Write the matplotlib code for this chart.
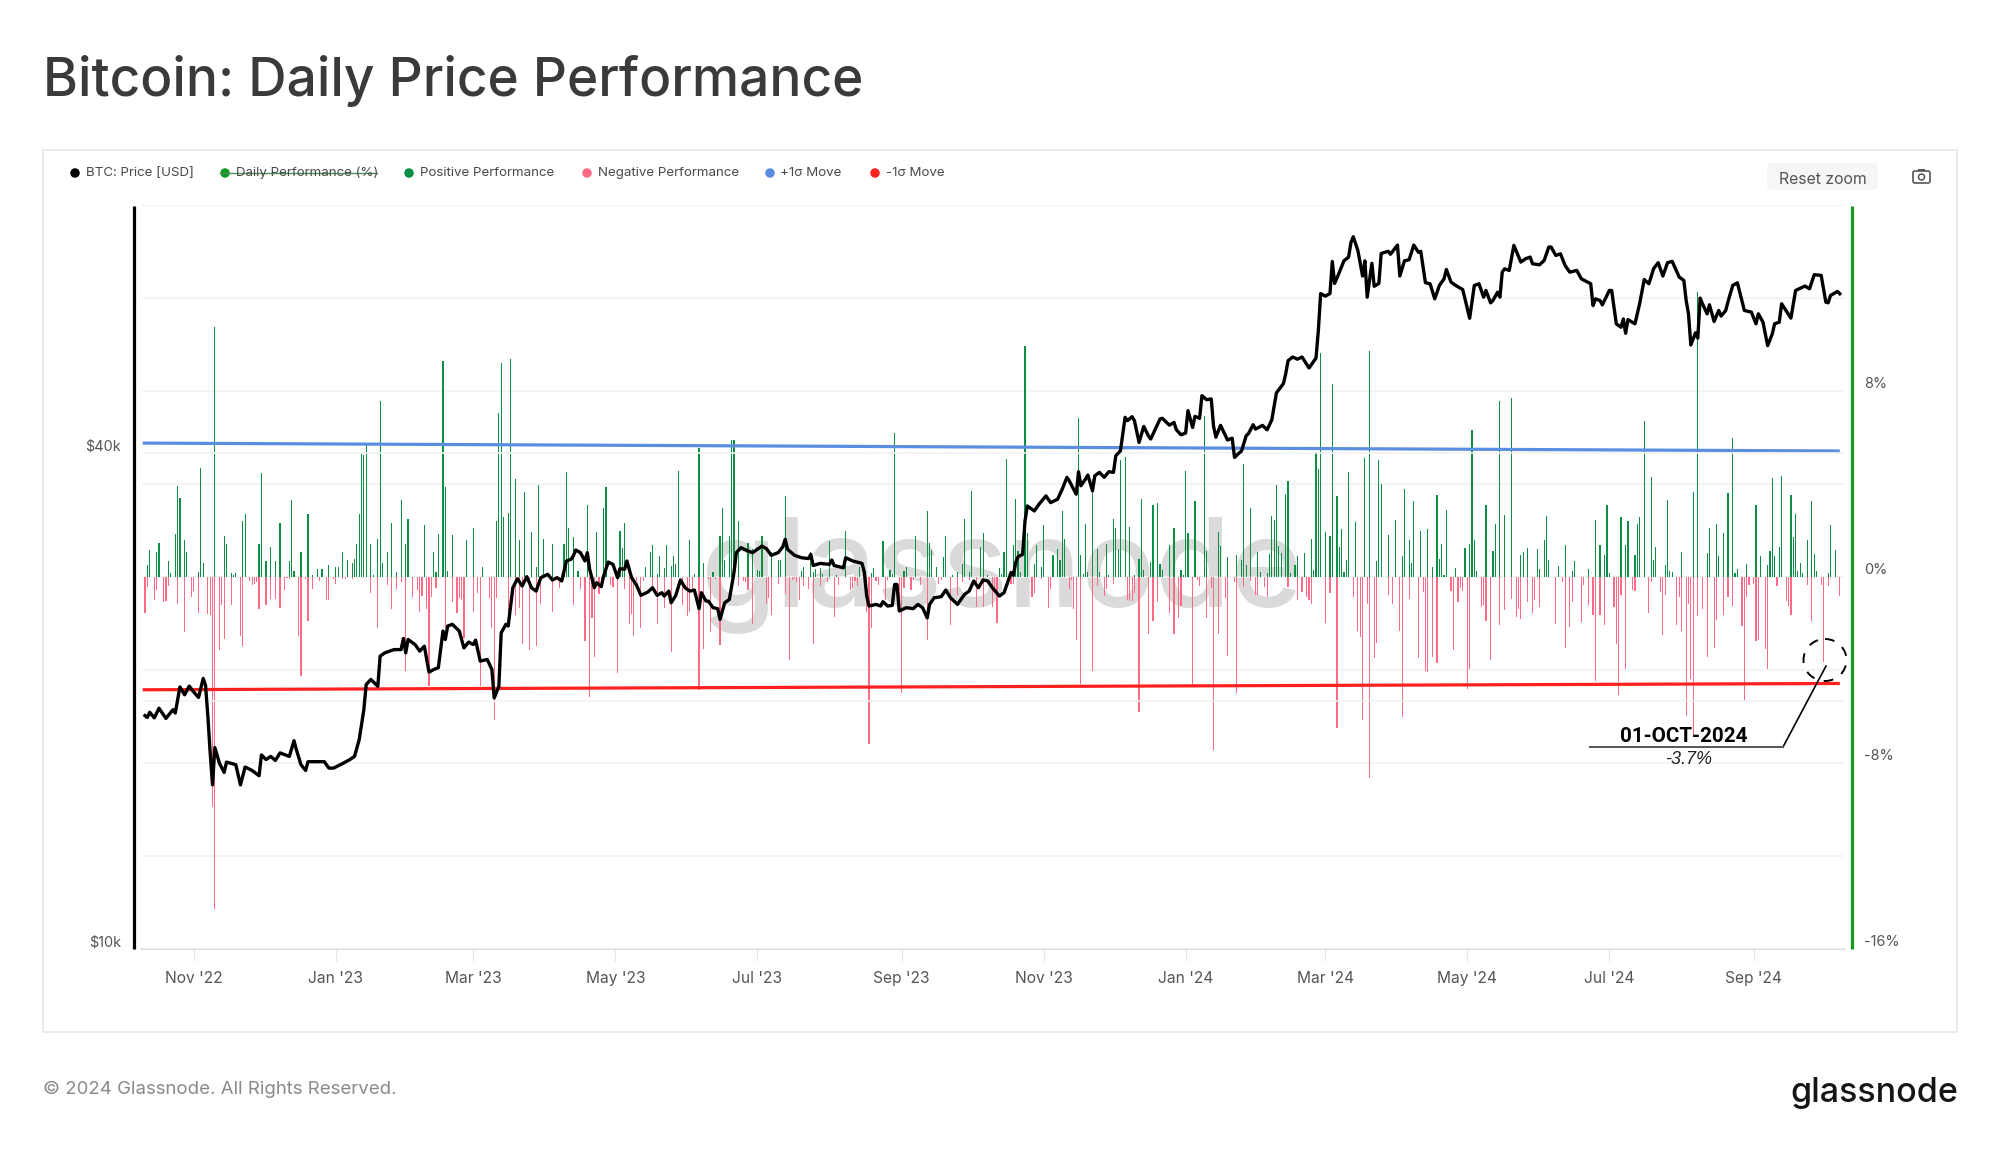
import matplotlib
matplotlib.use('Agg')
import matplotlib.pyplot as plt
import pandas as pd
from matplotlib.patches import Rectangle, FancyBboxPatch, Circle, Ellipse

plt.rcParams['font.family'] = ['Inter', 'DejaVu Sans']

# day numbers count from the first day of the chart
start = pd.Timestamp('2022-10-11')

pos_days = [1, 2, 5, 6, 10, 11, 13, 14, 15, 17, 18, 23, 24, 25, 30, 34, 35, 37, 38, 39, 42, 43, 49, 50, 52, 54, 56, 58, 62, 63, 64, 67, 70, 72, 74, 76, 79, 82, 83, 85, 87, 89,
            90, 91, 92, 93, 94, 95, 97, 98, 100, 101, 102, 104, 106, 108, 110, 112, 113, 120, 124, 125, 126, 128, 129, 130, 132, 138, 141, 145, 151, 152, 153, 154, 156, 157, 159, 161, 163, 166, 168, 169, 171, 175, 180, 181, 182,
            184, 186, 190, 194, 197, 198, 204, 205, 206, 215, 217, 218, 220, 221, 223, 224, 226, 227, 228, 229, 234, 236, 238, 240, 244, 247, 248, 249, 251, 252, 253, 255, 259, 261, 263, 264, 265, 269, 272, 273,
            275, 282, 283, 286, 287, 288, 290, 291, 294, 297, 301, 307, 312, 313, 317, 320, 321, 322, 326, 327, 331, 336, 337, 338, 340, 343, 344, 347, 349, 351, 352, 354, 355, 359, 360, 362, 367,
            368, 369, 370, 372, 373, 374, 375, 376, 378, 379, 382, 383, 385, 386, 390, 392, 393, 394, 395, 401, 402, 403, 404, 405, 407, 409, 410, 413, 414, 416, 417, 418, 419, 421, 423, 425, 427, 428, 429, 432, 433, 435, 436, 437, 440, 442, 445, 446, 447, 448, 451, 455, 456,
            461, 462, 465, 469, 471, 472, 473, 475, 478, 479, 482, 483, 484, 485, 486, 487, 488, 490, 491, 492, 494, 495, 498, 501, 502, 503, 504, 505, 507, 509, 510, 512, 513, 514, 515, 516, 517, 520, 524, 526, 529, 530, 531, 534, 537, 540, 541, 543, 544, 545, 548, 551,
            553, 555, 556, 557, 558, 559, 563, 567, 569, 570, 571, 572, 576, 579, 580, 582, 584, 587, 591, 592, 594, 598, 599, 601, 602, 603, 607, 610, 613, 614, 620, 623, 625, 627, 628, 629, 634, 636, 637, 640, 641, 642, 644,
            647, 648, 649, 653, 654, 655, 656, 660, 665, 667, 671, 672, 675, 676, 678, 680, 682, 683, 684, 688, 692, 694, 697, 698, 699, 700, 702, 703, 707, 708, 709, 710, 711, 712, 714, 716, 717, 718, 723, 724, 726]
pos_vals = [.53, 1.18, 1.06, 1.46, .67, .17, 1.86, 3.9, 3.38, 1.58, 1.06, .2, 4.69, .6, 10.74, 1.75, 1.4, .16, .1, .16, 2.39, 2.72, 1.4, 4.46, .67, 1.29, .67, 2.32, .67, 3.3, .26, 1.06, 2.72, .1, .33, .33, .53, .43, .43, 1.06, .72, .6,
            .77, 1.4, 2.72, 5.32, 5.26, 5.69, 1.4, .1, 1.65, 7.56, .6, 1.06, 2.34, .2, 3.31, 1.4, 2.51, 2.22, 1.06, .2, 1.86, 9.3, 3.89, .26, 1.82, 1.59, 2.1, .43, 2.39, 7.05, 9.19, 2.57, 2.74, 9.36, 4.23, 1.59, 3.66, 1.94, .43, 3.94, 1.65, 1.4, 1.4, 4.52, 2.1,
            1.71, .26, 3.08, 1.94, 2.97, 3.89, 1.99, 1.25, 2.34, .43, 1.06, 1.36, .14, .89, .39, 1.36, .49, .89, .56, 4.57, 1.59, .14, 5.55, .6, .2, 1.76, 2.97, .72, 1.76, 5.91, 5.91, 2.39, 1.48, 1.22, .32, .26, 1.76, 1.06, .72, .72,
            3.47, .26, .43, 1.06, .2, .36, .39, .14, 1.53, .09, 1.99, .43, .17, .37, 1.53, .32, .14, 6.19, .26, .43, 1.76, 2.85, 1.48, 1.18, .43, .85, 1.76, .09, .2, .56, 2.51, .2, 3.71, 1.3, 1.88, .09, .37,
            .14, 1.06, 5.09, .14, 1.36, 3.37, 1.1, .2, 9.92, 1.88, .56, 1.36, .43, 2.22, .96, 1.19, .72, 2.85, 1.65, 6.84, .95, .14, 2.28, .2, 4.23, 1.19, .2, 1.42, .09, 2.51, 2.11, 1.19, 5.03, 5.15, 2.16, .09, .77, 3.37, .32, .66, 3.08, 3.2, .56, .32, 1.36, 2.11, .32, .09, 4.57, 1.88, 3.25, 6.91, 1.13,
            1.92, 1.34, .84, .94, .72, 4.88, .53, 2.97, 1.06, .23, .16, 1.0, 2.63, 2.44, 3.94, 1.33, 1.02, 3.55, 4.11, .19, .5, .89, 1.02, 1.64, .31, 5.38, 4.64, 9.65, 1.92, 1.75, 8.32, 3.49, 1.28, 2.05, .23, .72, 4.53, 2.35, 5.1, 9.71, .67, 5.04, 4.0, 1.8, 2.46, .89, 3.77, 1.59, .59, 3.25, 1.99, 2.05,
            .43, 3.54, .77, 1.42, .07, 2.9, .37, 1.23, 1.4, 6.31, 1.59, .27, 3.08, 1.13, 2.28, 7.56, 2.68, 7.68, .96, 1.06, 1.25, 1.19, .33, 1.59, 2.62, .73, .49, 1.36, .27, .67, .33, 2.45, 1.36, .96, 3.08, .16, 2.57, 1.36, 2.39, .96, 2.28, 2.57, 6.72,
            4.29, .72, 1.3, .5, 3.31, .27, .22, 1.08, 3.66, 12.24, 1.02, 2.11, 2.28, .9, 1.89, 3.6, 6.0, .16, .33, .56, 3.08, .9, .5, 1.13, 4.24, .9, 1.3, 4.36, 3.54, 1.71, 2.7, .27, .62, .16, 1.59, 3.25, .97, .27, .16, 2.22, 1.18]

neg_days = [0, 1, 4, 5, 8, 9, 10, 14, 17, 20, 21, 23, 27, 28, 29, 30, 32, 33, 34, 37, 41, 42, 45, 46, 47, 48, 49, 52, 54, 56, 58, 60, 61, 62, 66, 67, 69, 70, 72, 75, 78, 79, 81, 82, 85, 86, 89,
            97, 100, 104, 106, 108, 110, 112, 115, 117, 118, 119, 121, 122, 123, 125, 129, 132, 134, 135, 136, 137, 141, 143, 144, 148, 149, 150, 151, 156, 159, 161, 162, 165, 168, 170, 175, 178,
            184, 187, 189, 191, 192, 193, 195, 196, 200, 201, 203, 206, 208, 209, 210, 211, 213, 214, 218, 220, 223, 226, 231, 233, 234, 235, 238, 240, 242, 243, 245, 247, 255, 257, 258, 259, 261, 267, 268, 269, 272, 275,
            277, 278, 279, 280, 281, 283, 285, 287, 290, 293, 296, 298, 303, 304, 305, 306, 310, 311, 312, 314, 315, 318, 319, 324, 325, 326, 329, 330, 333, 336, 341, 342, 346, 349, 351, 354, 357, 360, 364, 365, 366,
            371, 372, 373, 381, 382, 385, 388, 389, 397, 398, 399, 400, 402, 407, 409, 412, 413, 416, 422, 423, 424, 425, 427, 431, 433, 435, 440, 442, 444, 445, 450, 452, 453, 456, 458, 459,
            461, 464, 465, 468, 469, 472, 475, 477, 478, 481, 482, 491, 495, 497, 499, 500, 501, 507, 509, 512, 519, 521, 522, 523, 525, 526, 528, 529, 534, 536, 539, 540, 543, 547, 549, 550, 551,
            553, 555, 561, 562, 564, 565, 566, 568, 569, 574, 575, 576, 578, 582, 584, 587, 589, 590, 591, 594, 596, 597, 599, 606, 609, 610, 612, 613, 617, 618, 620, 622, 623, 625, 627, 631, 632, 633, 634, 636, 639, 640,
            646, 647, 651, 652, 653, 658, 659, 660, 662, 663, 664, 665, 667, 669, 671, 674, 675, 678, 680, 682, 686, 687, 688, 689, 691, 692, 693, 696, 697, 701, 705, 706, 707, 714, 716, 720, 721, 723, 728]
neg_vals = [-1.55, -.44, -.97, -.57, -1.09, -1.05, -.4, -1.15, -2.35, -.86, -.62, -1.55, -1.58, -1.62, -9.9, -14.3, -3.15, -1.22, -2.65, -1.22, -2.52, -2.98, -.19, -.36, -.29, -.23, -1.38, -1.22, -.93, -.93, -1.32, -.57, -.04, -.1, -2.52, -4.24, -.1, -1.9, -.52, -.16, -1.0, -.97, -.1, -.29, -.07, -.1, -.07,
            -.7, -2.18, -.34, -1.39, -.52, -.23, -4.03, -.86, -.57, -1.49, -.8, -1.39, -4.7, -.86, -.46, -2.19, -1.09, -1.55, -.89, -.97, -2.62, -1.49, -.69, -4.7, -.92, -2.18, -6.14, -.92, -1.62, -1.62, -1.32, -2.87, -3.13, -2.98, -1.15, -1.49, -.46,
            -1.2, -.52, -2.77, -5.18, -1.78, -3.46, -.75, -.4, -.36, -.42, -4.14, -.52, -2.0, -1.61, -2.52, -.19, -2.18, -.17, -.4, -2.0, -1.32, -3.23, -1.2, -1.66, -1.49, -.52, -4.87, -3.11, -.07, -2.35, -.09, -2.92, -.4, -.17, -.23, -.57, -2.0, -1.15, -.92, -1.62, -.29, -.75,
            -3.56, -.11, -.07, -.23, -.97, -.4, -.52, -2.87, -.4, -.23, -1.72, -.34, -.57, -.46, -.17, -.4, -1.49, -7.18, -2.18, -.19, -.34, -.97, -.11, -1.48, -5.0, -.46, -.57, -.11, -.34, -2.71, -.29, -.11, -2.06, -.76, -.23, -.11, -1.28, -1.28, -1.28, -.62, -1.96,
            -.34, -.29, -.29, -.86, -.69, -.1, -1.32, -.52, -.52, -.11, -1.39, -2.7, -4.59, -4.03, -.4, -.8, -.52, -.29, -.97, -1.03, -1.05, -.69, -5.81, -2.47, -1.91, -1.09, -1.55, -2.47, -1.76, -1.26, -4.7, -.11, -.4, -1.76, -.46, -7.44,
            -2.47, -.91, -3.39, -.23, -5.0, -.41, -.19, -.78, -.78, -.44, -.86, -.42, -.99, -.64, -.88, -.97, -1.14, -1.97, -.7, -6.5, -.88, -2.31, -2.6, -6.16, -1.14, -8.63, -3.5, -2.86, -.78, -1.16, -2.31, -6.04, -.94, -3.47, -.63, -4.03, -4.07,
            -3.44, -3.71, -.62, -3.15, -1.08, -.47, -.62, -4.83, -3.97, -1.3, -1.22, -1.91, -3.57, -2.08, -1.43, -.93, -1.73, -1.38, -1.79, -1.09, -1.56, -.97, -1.28, -2.02, -.23, -3.05, -2.14, -1.09, -1.95, -.33, -1.19, -1.62, -4.49, -1.62, -2.08, -1.29, -2.88, -5.06, -.76, -3.97, -.54, -.59,
            -1.55, -.23, -.65, -2.48, -.76, -2.08, -.86, -2.31, -5.98, -1.15, -4.37, -6.78, -1.66, -1.38, -3.46, -3.05, -1.84, -1.62, -.86, -1.26, -2.12, -5.35, -.86, -.34, -.3, -2.77, -2.7, -3.1, -3.97, -.4, -1.02, -1.26, -1.62, -.34, -1.91, -.36, -3.67, -.4, -.8]

price_days = [0, 1, 2, 4, 6, 9, 12, 13, 15, 17, 19, 21, 23, 25, 26, 27, 28, 29, 30, 32, 34, 35, 39, 41, 43, 46, 49, 50, 52, 54, 56, 58, 62, 64, 65, 67, 69, 70, 77, 79, 81, 85, 88,
              90, 92, 94, 95, 97, 100, 101, 103, 105, 107, 110, 111, 112, 113, 116, 118, 120, 121, 122, 124, 126, 128, 129, 130, 132, 135, 137, 139, 141, 142, 144, 147, 149, 150, 152, 153, 155, 156, 158, 160, 162, 164, 166, 168, 170, 173, 175, 177, 179, 181, 183,
              184, 185, 187, 189, 190, 191, 193, 194, 196, 197, 199, 201, 203, 204, 206, 207, 209, 211, 213, 216, 218, 220, 222, 223, 225, 226, 228, 230, 232, 234, 236, 238, 239, 241, 242, 244, 246, 247, 249, 251, 253, 254, 256, 259, 261, 265, 267, 269, 272, 274,
              275, 276, 279, 282, 285, 286, 287, 290, 294, 295, 296, 300, 301, 304, 308, 309, 310, 311, 314, 316, 317, 319, 321, 322, 323, 324, 327, 330, 332, 334, 336, 337, 339, 342, 344, 346, 349, 352, 354, 356, 358, 360, 362, 364, 367,
              369, 372, 373, 374, 375, 377, 378, 379, 382, 384, 387, 389, 392, 394, 396, 397, 400, 401, 402, 404, 405, 407, 408, 410, 412, 414, 416, 417, 419, 421, 422, 424, 425, 427, 429, 431, 432, 434, 436, 437, 440, 442, 443, 445, 447, 448, 450, 451, 453, 454, 456, 458, 459,
              460, 462, 465, 467, 468, 470, 471, 473, 474, 476, 477, 480, 482, 484, 486, 489, 490, 491, 493, 495, 497, 500, 503, 504, 505, 507, 509, 510, 511, 513, 515, 517, 518, 519, 521, 523, 524, 525, 527, 528, 530, 531, 534, 535, 538, 539, 541, 543, 545, 547, 548, 550,
              552, 554, 556, 558, 559, 561, 563, 566, 567, 569, 571, 573, 575, 576, 578, 579, 581, 582, 583, 584, 586, 588, 591, 593, 595, 596, 599, 601, 603, 604, 606, 608, 610, 612, 615, 617, 621, 622, 623, 625, 626, 629, 630, 632, 634, 635, 636, 637, 640, 642, 644,
              646, 648, 650, 652, 654, 656, 659, 661, 662, 663, 664, 666, 667, 668, 669, 671, 672, 674, 676, 677, 679, 680, 682, 684, 687, 690, 692, 693, 695, 697, 699, 700, 702, 703, 707, 709, 713, 715, 717, 720, 722, 723, 724, 727, 728]
price_k = [19.2, 19.1, 19.38, 19.08, 19.6, 19.05, 19.52, 19.34, 20.8, 20.35, 20.85, 20.5, 20.2, 21.3, 20.9, 19.17, 17.3, 15.82, 17.56, 16.8, 16.38, 16.86, 16.74, 15.82, 16.63, 16.47, 16.23, 17.2, 16.98, 17.13, 16.94, 17.3, 17.13, 17.9, 17.46, 16.74, 16.47, 16.88, 16.88, 16.58, 16.58, 16.8, 16.98,
           17.13, 17.95, 19.52, 20.94, 21.24, 20.84, 22.67, 22.88, 22.99, 23.09, 23.09, 23.82, 22.88, 23.75, 23.42, 22.99, 23.31, 22.46, 21.68, 21.84, 21.95, 24.32, 23.75, 24.66, 24.78, 24.32, 23.2, 23.58, 23.42, 23.71, 22.36, 22.46, 21.84, 20.17, 20.84, 24.2, 24.78, 24.66, 27.45, 28.15, 27.58, 28.31, 27.45, 27.19, 28.23, 28.5, 28.05, 28.23, 27.97, 29.58, 29.72,
           30.0, 30.5, 30.28, 29.58, 30.28, 28.9, 27.45, 27.84, 27.53, 28.37, 29.49, 29.3, 28.23, 28.95, 28.9, 29.58, 28.23, 27.7, 26.87, 27.12, 27.45, 26.87, 27.07, 26.82, 27.19, 26.32, 26.87, 28.05, 27.45, 27.19, 27.27, 25.89, 27.07, 26.44, 26.44, 25.96, 25.89, 25.12, 26.32, 26.56, 28.64, 30.28, 30.7, 30.41, 30.28, 30.84, 30.61, 30.05, 30.28, 30.78,
           31.43, 30.56, 30.05, 29.85, 29.78, 30.13, 29.21, 29.38, 29.3, 29.66, 29.21, 29.02, 29.85, 29.58, 29.38, 28.64, 26.82, 26.08, 26.2, 26.08, 26.4, 26.08, 26.13, 27.7, 27.7, 25.72, 25.96, 25.89, 26.2, 25.96, 25.23, 26.2, 26.69, 26.77, 27.27, 26.69, 26.2, 26.94, 27.19, 27.97, 27.45, 28.05, 27.97, 27.45, 26.82,
           27.07, 28.64, 28.42, 29.45, 29.94, 30.13, 33.08, 34.5, 34.02, 34.66, 35.48, 34.82, 35.15, 36.16, 37.37, 37.01, 35.65, 37.96, 36.5, 37.19, 37.61, 35.98, 37.54, 37.89, 37.37, 37.96, 37.89, 39.69, 40.25, 44.19, 43.78, 44.27, 43.78, 41.2, 43.08, 41.97, 41.59, 42.77, 43.99, 44.07, 43.24, 43.57, 42.69, 42.09, 42.29, 45.03, 42.96, 44.31, 44.07, 46.95, 46.43, 46.52, 43.08,
           41.81, 43.21, 41.48, 41.69, 39.5, 40.01, 40.22, 41.98, 42.23, 43.29, 42.76, 43.21, 42.68, 43.87, 47.32, 48.56, 49.92, 51.78, 52.31, 51.99, 52.31, 50.73, 52.15, 56.3, 62.46, 62.01, 62.46, 68.32, 64.25, 66.26, 68.45, 69.16, 72.02, 73.21, 70.43, 65.59, 68.45, 61.83, 67.97, 63.74, 64.25, 69.86, 70.29, 69.72, 71.52, 65.59, 68.45, 68.66, 71.52, 70.08, 70.29, 64.39,
           64.19, 61.54, 63.89, 65.08, 66.81, 64.49, 63.89, 63.17, 61.54, 58.29, 63.89, 64.19, 61.83, 63.0, 60.86, 61.26, 62.7, 61.83, 66.31, 66.93, 66.63, 71.46, 68.2, 68.84, 69.16, 67.88, 67.69, 68.51, 71.13, 71.13, 69.48, 69.81, 67.56, 66.31, 66.63, 65.08, 64.19, 60.4, 61.54, 61.26, 60.51, 63.0, 63.0, 57.39, 56.85, 58.18, 55.89, 58.08, 57.39, 60.68, 64.96,
           64.2, 66.95, 68.09, 65.59, 68.09, 68.34, 65.41, 64.8, 61.27, 59.02, 54.1, 55.97, 55.14, 61.67, 60.7, 59.02, 60.53, 57.77, 59.58, 58.64, 59.58, 61.1, 63.89, 64.37, 59.58, 59.3, 57.4, 59.02, 57.66, 54.0, 55.8, 57.4, 57.66, 60.7, 58.32, 63.0, 63.78, 63.3, 65.84, 65.71, 60.98, 60.87, 62.13, 62.83, 62.42]

sigma_days = [-1, 728]
plus_sigma = [5.76, 5.42]
minus_sigma = [-4.85, -4.58]

tick_dates = ['2022-11-01', '2023-01-01', '2023-03-01', '2023-05-01', '2023-07-01', '2023-09-01',
              '2023-11-01', '2024-01-01', '2024-03-01', '2024-05-01', '2024-07-01', '2024-09-01']
tick_labels = ["Nov '22", "Jan '23", "Mar '23", "May '23", "Jul '23", "Sep '23",
               "Nov '23", "Jan '24", "Mar '24", "May '24", "Jul '24", "Sep '24"]

legend_names = ['BTC: Price [USD]', 'Daily Performance (%)', 'Positive Performance', 'Negative Performance', '+1σ Move', '-1σ Move']
legend_colors = ['#000000', '#0f9a1e', '#0a8f44', '#ff6b85', '#5b8de0', '#ff2020']
legend_dot_x = [75, 225, 409, 587, 770, 875]


def to_dates(days):
    return start + pd.to_timedelta(days, unit='D')


W, H = 2000, 1152
fig = plt.figure(figsize=(20, 11.52), dpi=100, facecolor='white')

# page layer in pixels, sits under the chart
page = fig.add_axes([0, 0, 1, 1], zorder=0)
page.set_xlim(0, W)
page.set_ylim(H, 0)
page.axis('off')

# annotation layer on top of the chart
top = fig.add_axes([0, 0, 1, 1], zorder=5)
top.set_xlim(0, W)
top.set_ylim(H, 0)
top.axis('off')

page.add_patch(Rectangle((43, 150), 1914, 882, fc='white', ec='#e8e8e8', lw=1.2))
page.text(43, 81, 'Bitcoin: Daily Price Performance', fontsize=38.3, color='#3a3a3a', va='center', ha='left', fontweight='medium')
page.text(43, 1089, '© 2024 Glassnode. All Rights Reserved.', fontsize=13.4, color='#8a8a8a', va='center')
page.text(1958, 1093, 'glassnode', fontsize=24.5, color='#151515', va='center', ha='right', fontweight='medium')
page.text(1001, 576, 'glassnode', fontsize=88, color='#dadada', va='center', ha='center', fontweight='medium')

for name, col, dx in zip(legend_names, legend_colors, legend_dot_x):
    page.add_patch(Ellipse((dx, 173), 9.5, 9.5, fc=col, ec='none'))
    page.text(dx + 10.5, 173, name, fontsize=9.6, color='#4a4a4a', va='center')
page.plot([220, 377], [173, 173], color='#4f8f5a', lw=1)

page.add_patch(FancyBboxPatch((1770, 166), 105, 21, boxstyle='round,pad=3,rounding_size=5', fc='#f5f6f8', ec='none'))
page.text(1823, 179, 'Reset zoom', fontsize=11.4, color='#555555', va='center', ha='center')
page.add_patch(FancyBboxPatch((1913, 171), 17, 12, boxstyle='round,pad=0,rounding_size=2', fc='none', ec='#555555', lw=1.2))
page.add_patch(Rectangle((1918, 168.5), 7, 2.5, fc='#555555', ec='none'))
page.add_patch(Circle((1921.5, 177), 3, fc='none', ec='#555555', lw=1.1))

page.plot([134, 134], [206, 949], color='black', lw=2.3, solid_capstyle='butt')
page.plot([1852, 1852], [206, 949], color='#159a1a', lw=2.3, solid_capstyle='butt')

# chart axes: performance in %, price on a log axis
ax = fig.add_axes([142 / W, 1 - 949 / H, (1844 - 142) / W, (949 - 205) / H], zorder=1)
ax.patch.set_alpha(0)
ax.bar(to_dates(pos_days), pos_vals, width=0.5, color='#0a8f44', linewidth=0, zorder=2, snap=True)
ax.bar(to_dates(neg_days), neg_vals, width=0.5, color='#ff6b85', linewidth=0, zorder=2, snap=True)
ax.plot(to_dates(sigma_days), plus_sigma, color='#5b8de0', lw=2.3, zorder=3, solid_capstyle='butt')
ax.plot(to_dates(sigma_days), minus_sigma, color='#ff2020', lw=2.3, zorder=3, solid_capstyle='butt')

ax2 = ax.twinx()
ax2.set_zorder(2)
ax2.patch.set_alpha(0)
ax2.plot(to_dates(price_days), [p * 1000 for p in price_k], color='black', lw=2.4, zorder=4, solid_joinstyle='round')
ax2.set_yscale('log')
ax2.set_ylim(10000, 80000)
ax2.yaxis.tick_left()
ax2.set_yticks([10000, 20000, 40000, 80000])
ax2.set_yticklabels(['$10k', '', '$40k', ''], va='bottom')
ax2.minorticks_off()
ax2.tick_params(axis='y', length=0, pad=15, labelsize=10.4, labelcolor='#555555')
ax2.grid(axis='y', color='#f2f2f2', lw=1.2)
ax2.set_axisbelow(True)
for side in ['left', 'right', 'top', 'bottom']:
    ax2.spines[side].set_visible(False)

ax.set_xlim(start + pd.Timedelta(days=-1.29), start + pd.Timedelta(days=729.8))
ax.set_ylim(-16, 16)
# twinx puts the first axis ticks back on the left, so set the side here
ax.yaxis.tick_right()
ax.set_yticks([-16, -12, -8, -4, 0, 4, 8, 12, 16])
ax.set_yticklabels(['-16%', '', '-8%', '', '0%', '', '8%', '', ''], va='bottom')
ax.tick_params(axis='y', length=0, pad=14.5, labelsize=10.4, labelcolor='#555555')
ax.set_xticks(pd.to_datetime(tick_dates))
ax.set_xticklabels(tick_labels)
ax.tick_params(axis='x', length=8.6, width=0.8, color='#e6e6e6', pad=7.5, labelsize=11.2, labelcolor='#555555')
ax.grid(axis='y', color='#f2f2f2', lw=1.2, zorder=0)
ax.set_axisbelow(True)
for side in ['left', 'right', 'top']:
    ax.spines[side].set_visible(False)
ax.spines['bottom'].set_color('#d9d9d9')
ax.spines['bottom'].set_linewidth(1.4)

# callout for the 1 Oct 2024 bar
top.add_patch(Ellipse((1825, 660), 43, 42, fc='none', ec='black', lw=1.4, ls=(0, (5, 5))))
top.plot([1826, 1783], [666, 747], color='black', lw=1.2)
top.plot([1783, 1590], [747, 747], color='#555555', lw=1.4)
top.text(1684, 737, '01-OCT-2024', fontsize=14.9, color='black', ha='center', va='center', fontweight='bold', family=['Roboto', 'DejaVu Sans'])
top.text(1689, 760, '-3.7%', fontsize=13, color='#222222', ha='center', va='center', style='italic', family=['Liberation Sans', 'DejaVu Sans'])

fig.savefig('out.png', dpi=100)
